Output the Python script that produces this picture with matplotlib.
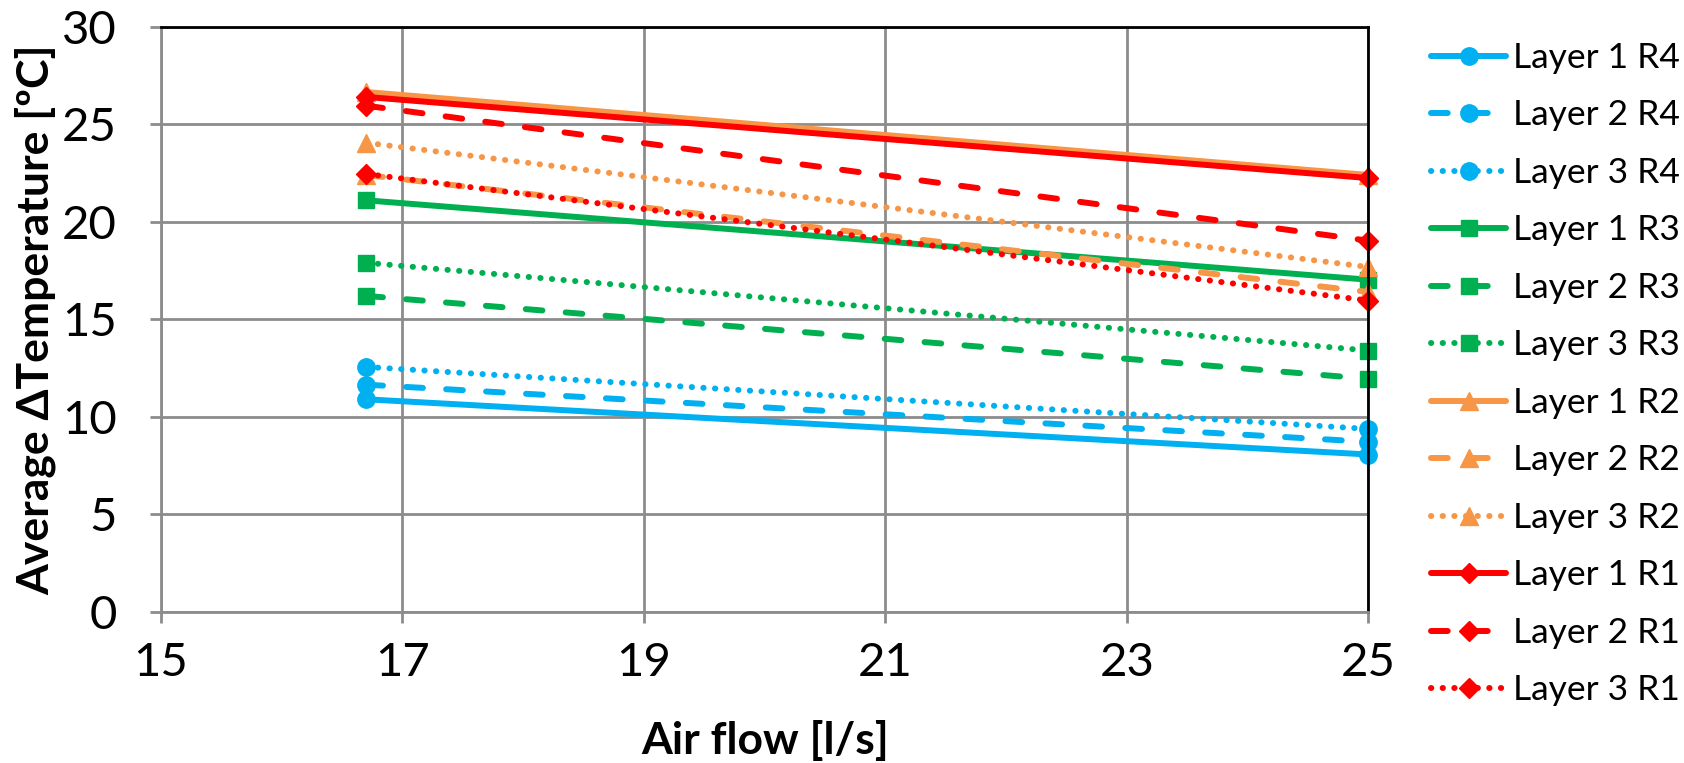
import numpy as np
import matplotlib.pyplot as plt

plt.rcParams['font.family'] = ['Lato', 'DejaVu Sans']

air_flow = [16.7, 25]  # l/s

# average delta temperature per layer and ring
labels = ['Layer 1 R4', 'Layer 2 R4', 'Layer 3 R4',
          'Layer 1 R3', 'Layer 2 R3', 'Layer 3 R3',
          'Layer 1 R2', 'Layer 2 R2', 'Layer 3 R2',
          'Layer 1 R1', 'Layer 2 R1', 'Layer 3 R1']
l1_r4 = [10.9, 8.07]
l2_r4 = [11.65, 8.72]
l3_r4 = [12.56, 9.38]
l1_r3 = [21.1, 17.03]
l2_r3 = [16.2, 11.95]
l3_r3 = [17.9, 13.4]
l1_r2 = [26.65, 22.4]
l2_r2 = [22.4, 16.4]
l3_r2 = [24.05, 17.68]
l1_r1 = [26.4, 22.24]
l2_r1 = [25.95, 19.03]
l3_r1 = [22.45, 15.96]

series = [l1_r4, l2_r4, l3_r4, l1_r3, l2_r3, l3_r3,
          l1_r2, l2_r2, l3_r2, l1_r1, l2_r1, l3_r1]
colors = ['#00B0F0'] * 3 + ['#00B050'] * 3 + ['#F79646'] * 3 + ['#FF0000'] * 3
markers = ['o'] * 3 + ['s'] * 3 + ['^'] * 3 + ['D'] * 3
styles = [(0, ()), (0, (2.8, 3.9)), (0, (0.05, 1.9))] * 4
msizes = {'o': 12.5, 's': 11.5, '^': 13, 'D': 10}

fig = plt.figure(figsize=(16.84, 7.63), dpi=100)
ax = fig.add_axes([0.0956, 0.198, 0.717, 0.767])

for y, lab, c, m, ls in zip(series, labels, colors, markers, styles):
    ax.plot(air_flow, y, color=c, marker=m, linestyle=ls, linewidth=4.3,
            markersize=msizes[m], label=lab, dash_capstyle='round',
            clip_on=False)

ax.set_xlim(15, 25)
ax.set_ylim(0, 30)
ax.set_xticks([15, 17, 19, 21, 23, 25])
ax.set_yticks([0, 5, 10, 15, 20, 25, 30])
ax.grid(True, color='#8C8C8C', linewidth=2)
ax.set_axisbelow(True)
ax.tick_params(labelsize=34, length=8, color='#8C8C8C', width=2)
ax.tick_params(axis='x', pad=14)
ax.tick_params(axis='y', pad=24)
for side in ['left', 'bottom']:
    ax.spines[side].set_color('#8C8C8C')
    ax.spines[side].set_linewidth(2)
for side in ['top', 'right']:
    ax.spines[side].set_color('black')
    ax.spines[side].set_linewidth(2)

ax.set_xlabel('Air flow [l/s]', fontsize=32, fontweight='bold')
ax.set_ylabel('Average ΔTemperature [ºC]', fontsize=32, fontweight='bold')
ax.xaxis.set_label_coords(0.5, -0.22)
ax.xaxis.label.set_va('center')
ax.yaxis.set_label_coords(-0.104, 0.5)
ax.yaxis.label.set_va('center')

ax.legend(loc='upper left', bbox_to_anchor=(0.850, 0.945),
          bbox_transform=fig.transFigure, frameon=False,
          fontsize=25.5, numpoints=1, handlelength=2.1, labelspacing=0.72,
          handletextpad=0.2, borderpad=0, borderaxespad=0)

plt.savefig('out.png')
